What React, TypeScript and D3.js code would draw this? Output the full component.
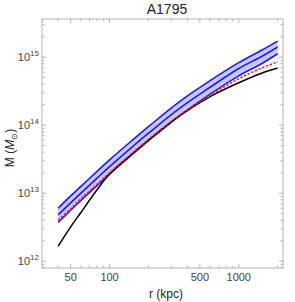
import React from 'react';
import * as d3 from 'd3';

// radii in kpc, masses in solar masses
const radii = [40, 50, 60, 80, 100, 150, 200, 350, 600, 1000, 1500, 2000];
const bandUpper = [6.0e12, 9.1e12, 1.26e13, 2.09e13, 3.09e13, 6.0e13, 9.5e13, 2.24e14, 4.52e14, 8.3e14, 1.26e15, 1.72e15];
const bandCenter = [4.8e12, 7.2e12, 1.0e13, 1.66e13, 2.45e13, 4.8e13, 7.6e13, 1.78e14, 3.6e14, 6.8e14, 1.02e15, 1.41e15];
const bandLower = [3.7e12, 5.6e12, 7.8e12, 1.29e13, 1.91e13, 3.7e13, 5.9e13, 1.38e14, 2.85e14, 5.3e14, 8.0e14, 1.12e15];
const redDashed = [4.0e12, 5.9e12, 8.3e12, 1.35e13, 2.0e13, 3.9e13, 6.2e13, 1.41e14, 2.75e14, 4.8e14, 6.9e14, 8.5e14];
const blackLine = [1.66e12, 3.2e12, 5.2e12, 1.12e13, 1.91e13, 3.8e13, 6.0e13, 1.38e14, 2.63e14, 4.2e14, 5.8e14, 6.9e14];

const xTickLabels = [50, 100, 500, 1000];
const yExponents = [12, 13, 14, 15];

const W = 295;
const H = 302;
const left = 42, right = 283, top = 19, bottom = 268;

const App: React.FC = () => {
  const x = d3.scaleLog().domain([30, 2200]).range([left, right]);
  const y = d3.scaleLog().domain([Math.pow(10, 11.9), Math.pow(10, 15.56)]).range([bottom, top]);
  const curve = d3.curveCatmullRom.alpha(0.5);

  const line = (vals: number[]) =>
    d3.line<number>()
      .x((_, i) => x(radii[i]))
      .y(d => y(d))
      .curve(curve)(vals) || '';

  const band = d3.area<number>()
    .x((_, i) => x(radii[i]))
    .y0((_, i) => y(bandLower[i]))
    .y1(d => y(d))
    .curve(curve)(bandUpper) || '';

  // minor and major ticks
  const xMinor: number[] = [];
  [10, 100, 1000].forEach(dec => {
    for (let k = 1; k <= 9; k++) {
      const v = dec * k;
      if (v >= 30 && v <= 2200) xMinor.push(v);
    }
  });
  const yMinor: number[] = [];
  [1e11, 1e12, 1e13, 1e14, 1e15].forEach(dec => {
    for (let k = 1; k <= 9; k++) {
      const v = dec * k;
      if (v >= Math.pow(10, 11.9) && v <= Math.pow(10, 15.56)) yMinor.push(v);
    }
  });
  const isXMajor = (v: number) => xTickLabels.includes(v);
  const isYMajor = (v: number) => yExponents.some(e => Math.abs(Math.log10(v) - e) < 1e-6);

  const frame = '#b3b3b3';
  const font = 'Liberation Sans, Arial, sans-serif';

  return (
    <svg width={W} height={H} style={{ position: 'absolute', left: 0, top: 0 }}>
      <rect width={W} height={H} fill="#fff" />
      <text x={167} y={14} textAnchor="middle" fontFamily={font} fontSize={14} fill="#222">A1795</text>

      <path d={band} fill="#c8c8ff" />
      <path d={line(bandUpper)} fill="none" stroke="#1a1aff" strokeWidth={1.6} />
      <path d={line(bandCenter)} fill="none" stroke="#1a1aff" strokeWidth={1.6} />
      <path d={line(bandLower)} fill="none" stroke="#1a1aff" strokeWidth={1.6} />
      <path d={line(blackLine)} fill="none" stroke="#000" strokeWidth={1.5} />
      <path d={line(redDashed)} fill="none" stroke="#ff1a1a" strokeWidth={1.5} strokeDasharray="2.5,1.5" />

      <rect x={left} y={top} width={right - left} height={bottom - top} fill="none" stroke={frame} strokeWidth={1} />
      {xMinor.map(v => {
        const len = isXMajor(v) ? 4 : 2.5;
        return (
          <g key={'x' + v}>
            <line x1={x(v)} x2={x(v)} y1={bottom} y2={bottom - len} stroke={frame} />
            <line x1={x(v)} x2={x(v)} y1={top} y2={top + len} stroke={frame} />
          </g>
        );
      })}
      {yMinor.map(v => {
        const len = isYMajor(v) ? 4 : 2.5;
        return (
          <g key={'y' + v}>
            <line x1={left} x2={left + len} y1={y(v)} y2={y(v)} stroke={frame} />
            <line x1={right} x2={right - len} y1={y(v)} y2={y(v)} stroke={frame} />
          </g>
        );
      })}

      {xTickLabels.map(v => (
        <text key={'xl' + v} x={x(v)} y={281} textAnchor="middle" fontFamily={font} fontSize={11} fill="#444">{v}</text>
      ))}
      {yExponents.map(e => (
        <text key={'yl' + e} x={39} y={y(Math.pow(10, e)) + 4} textAnchor="end" fontFamily={font} fontSize={11} fill="#444">
          10<tspan fontSize={8} dy={-5}>{e}</tspan>
        </text>
      ))}

      <text x={166} y={298} textAnchor="middle" fontFamily={font} fontSize={12} fill="#222">r (kpc)</text>
      <text transform="translate(14,148) rotate(-90)" textAnchor="middle" fontFamily={font} fontSize={12} fill="#222">
        M (<tspan fontStyle="italic">M</tspan><tspan fontSize={8} dy={3}>⊙</tspan><tspan dy={-3}>)</tspan>
      </text>
    </svg>
  );
};

export default App;
